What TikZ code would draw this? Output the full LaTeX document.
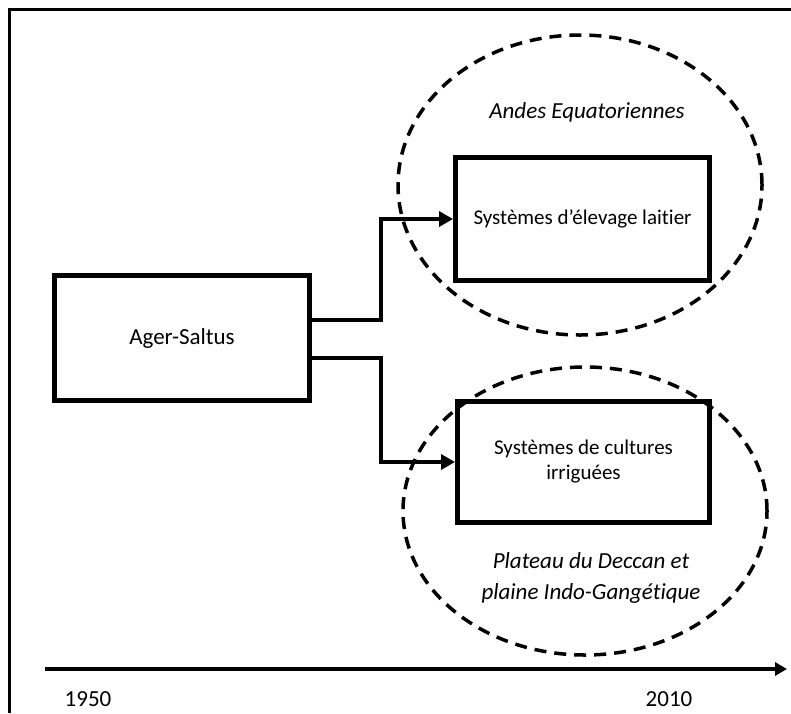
\documentclass[tikz,border=0pt]{standalone}
\usepackage{fontspec}
\setmainfont{Carlito}[Ligatures={NoCommon}]
\usetikzlibrary{arrows.meta, positioning, shapes.geometric}
\tikzset{
  every picture/.style={line width=4pt},
  box/.style={draw, line width=5pt, align=center, minimum width=254pt, minimum height=123pt, font=\fontsize{21}{25}\selectfont},
  link/.style={-{Triangle[length=14pt, width=15pt]}, line width=4pt},
  zone/.style={draw, ellipse, dash pattern=on 12pt off 8pt, line width=3.5pt},
  region/.style={font=\fontsize{23}{31}\selectfont\itshape, align=center},
  year/.style={font=\fontsize{23}{27}\selectfont},
}

\begin{document}
\begin{tikzpicture}[x=1pt, y=-1pt]
  \useasboundingbox (0,0) rectangle (791,713);
  % frame
  \coordinate (ftr) at (791,9);
  \coordinate (ftl) at (9,9);
  \coordinate (fbl) at (9,713);
  \draw[line width=3pt] (ftr) -- (ftl) -- (fbl);
  % zones
  \node[zone, minimum width=364pt, minimum height=300pt] (andes) at (580,185) {};
  \node[zone, minimum width=364pt, minimum height=288pt] (deccan) at (585,511) {};
  \node[region] (andeslbl) at (587,112) {Andes Equatoriennes};
  \node[region] (deccanlbl) at (591,578) {Plateau du Deccan et\\plaine Indo-Gangétique};
  % boxes
  \node[box, minimum width=255pt, minimum height=125pt, font=\fontsize{23}{27}\selectfont] (ager) at (182,338) {Ager-Saltus};
  \node[box] (dairy) at (582.5,219) {Systèmes d’élevage laitier};
  \node[box, minimum width=252pt, minimum height=121pt] (irrig) at (583.5,462) {Systèmes de cultures\\irriguées};
  \draw[link] ([yshift=18pt]ager.east) -- ++(69,0) |- (dairy.west);
  \draw[link] ([yshift=-20pt]ager.east) -- ++(69,0) |- (irrig.west);
  % time axis
  \coordinate (t0) at (45,669);
  \coordinate (t1) at (787,669);
  \draw[-{Triangle[length=12pt, width=13pt]}] (t0) -- (t1);
  \node[year] (y1950) at (88,699) {1950};
  \node[year] (y2010) at (669,699) {2010};
\end{tikzpicture}
\end{document}
